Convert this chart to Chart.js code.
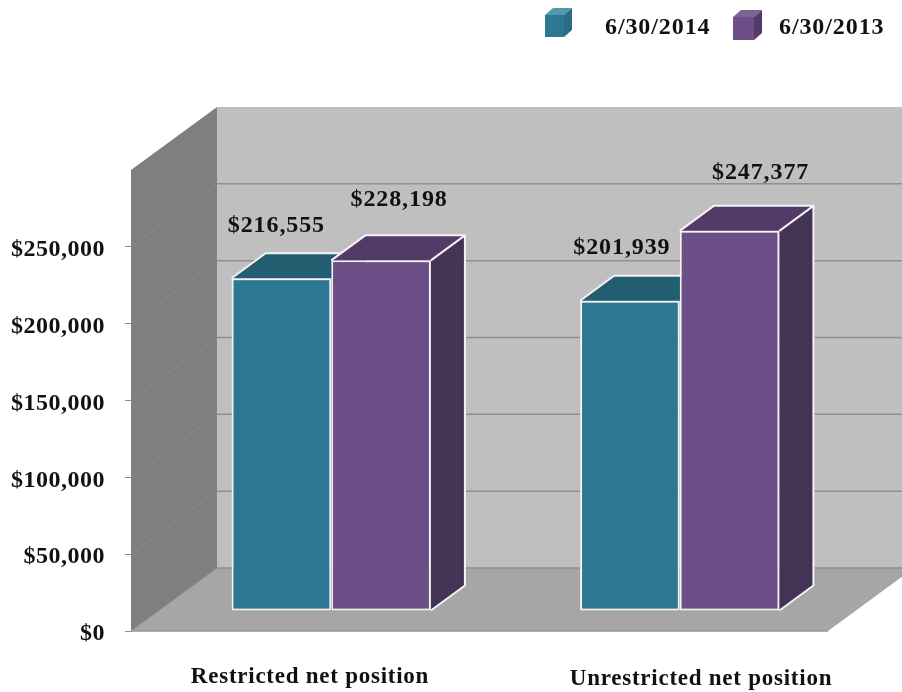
<!DOCTYPE html>
<html>
<head>
<meta charset="utf-8">
<title>Net position</title>
<script src="https://cdn.jsdelivr.net/npm/chart.js@4"></script>
<style>
  html, body { margin: 0; padding: 0; background: #fff; }
  canvas { display: block; }
</style>
</head>
<body>
<canvas id="chart" width="902" height="692"></canvas>
<script>
const categories = ['Restricted net position', 'Unrestricted net position']
const seriesNames = ['6/30/2014', '6/30/2013']
const values2014 = [216555, 201939]
const values2013 = [228198, 247377]

const serif = '"Liberation Serif", "Times New Roman", serif'
const money = v => '$' + v.toLocaleString('en-US')

// room depth and how far into the room the bars stand
const depth = { x: 86, y: -63 }
const inset = { x: 26, y: -20 }
const barDepth = { x: 34, y: -25 }

// colours for front, top and side of each series
const shades = [
  { front: '#2c7892', top: '#235e70', side: '#235e70', cubeTop: '#4d9ab2', cubeSide: '#2a6c82' },
  { front: '#6b4f86', top: '#523b66', side: '#433455', cubeTop: '#7a6592', cubeSide: '#523b66' }
]
// value label nudges from the bar's top centre, per series
const valueNudge = [
  [{ x: -5, y: -52 }, { x: -8, y: -53 }],
  [{ x: 18, y: -61 }, { x: 31, y: -58 }]
]
const labelPos = [{ x: 310, y: 677 }, { x: 701, y: 679 }]
const legendPos = [
  { x: 545, y: 15, w: 19, h: 22, text: 605, base: 34 },
  { x: 733, y: 17, w: 21, h: 23, text: 779, base: 34 }
]

function poly(ctx, pts, fill) {
  ctx.beginPath()
  pts.forEach((p, i) => i ? ctx.lineTo(p[0], p[1]) : ctx.moveTo(p[0], p[1]))
  ctx.closePath()
  ctx.fillStyle = fill
  ctx.fill()
}

function line(ctx, x1, y1, x2, y2, color, width) {
  ctx.beginPath()
  ctx.moveTo(x1, y1)
  ctx.lineTo(x2, y2)
  ctx.strokeStyle = color
  ctx.lineWidth = width
  ctx.stroke()
}

const room = {
  id: 'room',
  beforeDraw(chart) {
    const { ctx, chartArea: a, scales: { y } } = chart
    ctx.letterSpacing = '0.5px'
    ctx.save()
    // back wall, left wall, floor
    poly(ctx, [[a.left + depth.x, a.top + depth.y], [a.right + depth.x, a.top + depth.y],
      [a.right + depth.x, a.bottom + depth.y], [a.left + depth.x, a.bottom + depth.y]], '#bfbfbf')
    poly(ctx, [[a.left, a.top], [a.left + depth.x, a.top + depth.y],
      [a.left + depth.x, a.bottom + depth.y], [a.left, a.bottom]], '#7f7f7f')
    poly(ctx, [[a.left, a.bottom], [a.right, a.bottom],
      [a.right + depth.x, a.bottom + depth.y], [a.left + depth.x, a.bottom + depth.y]], '#a6a6a6')
    y.ticks.forEach(t => {
      const py = y.getPixelForValue(t.value)
      if (t.value === y.max) return
      line(ctx, a.left, py, a.left + depth.x, py + depth.y, '#8a8a8a', 1)
      line(ctx, a.left + depth.x, py + depth.y, a.right + depth.x, py + depth.y, '#8f8f8f', 1.5)
    })
    line(ctx, a.left, a.bottom, a.right, a.bottom, '#939393', 1.5)
    ctx.restore()
  },
  beforeDatasetsDraw(chart) {
    const { ctx } = chart
    ctx.save()
    ctx.translate(inset.x, inset.y)
    // tops and sides first, left series before right so the right one covers it
    chart.data.datasets.forEach((ds, i) => {
      const c = shades[i]
      chart.getDatasetMeta(i).data.forEach(bar => {
        const l = bar.x - bar.width / 2
        const r = bar.x + bar.width / 2
        const t = bar.y
        const b = bar.base
        const dx = barDepth.x
        const dy = barDepth.y
        poly(ctx, [[l, t], [r, t], [r + dx, t + dy], [l + dx, t + dy]], c.top)
        poly(ctx, [[r, t], [r + dx, t + dy], [r + dx, b + dy], [r, b]], c.side)
        ctx.strokeStyle = '#f4f1f7'
        ctx.lineWidth = 2
        ctx.lineJoin = 'round'
        ctx.beginPath()
        ctx.moveTo(l, t)
        ctx.lineTo(l + dx, t + dy)
        ctx.lineTo(r + dx, t + dy)
        // the left series has its right side hidden behind the right series
        if (i === chart.data.datasets.length - 1) {
          ctx.lineTo(r, t)
          ctx.moveTo(r + dx, t + dy)
          ctx.lineTo(r + dx, b + dy)
          ctx.lineTo(r, b)
        }
        ctx.stroke()
      })
    })
  },
  afterDatasetsDraw(chart) {
    const { ctx } = chart
    ctx.restore()
    ctx.save()
    ctx.fillStyle = '#111'
    ctx.textAlign = 'center'
    ctx.textBaseline = 'middle'
    ctx.font = 'bold 24px ' + serif
    ctx.letterSpacing = '0.9px'
    chart.data.datasets.forEach((ds, i) => {
      chart.getDatasetMeta(i).data.forEach((bar, j) => {
        const n = valueNudge[i][j]
        ctx.fillText(money(ds.data[j]), bar.x + inset.x + n.x, bar.y + inset.y + n.y)
      })
    })
    // category labels
    ctx.font = 'bold 23px ' + serif
    ctx.letterSpacing = '0.75px'
    categories.forEach((name, i) => ctx.fillText(name, labelPos[i].x, labelPos[i].y))
    // legend with little cubes
    ctx.textAlign = 'left'
    ctx.textBaseline = 'alphabetic'
    ctx.font = 'bold 24px ' + serif
    ctx.letterSpacing = '0.9px'
    seriesNames.forEach((name, i) => {
      const p = legendPos[i]
      const c = shades[i]
      const dx = 8
      const dy = -7
      poly(ctx, [[p.x, p.y], [p.x + p.w, p.y], [p.x + p.w + dx, p.y + dy], [p.x + dx, p.y + dy]], c.cubeTop)
      poly(ctx, [[p.x + p.w, p.y], [p.x + p.w + dx, p.y + dy], [p.x + p.w + dx, p.y + p.h + dy], [p.x + p.w, p.y + p.h]], c.cubeSide)
      ctx.fillStyle = c.front
      ctx.fillRect(p.x, p.y, p.w, p.h)
      ctx.fillStyle = '#111'
      ctx.fillText(name, p.text, p.base)
    })
    ctx.restore()
  }
}

new Chart(document.getElementById('chart'), {
  type: 'bar',
  data: {
    labels: categories,
    datasets: [
      { label: seriesNames[0], data: values2014, backgroundColor: shades[0].front, borderColor: '#f4f1f7', borderWidth: 2, borderSkipped: false, clip: false },
      { label: seriesNames[1], data: values2013, backgroundColor: shades[1].front, borderColor: '#f4f1f7', borderWidth: 2, borderSkipped: false, clip: false }
    ]
  },
  options: {
    responsive: false,
    animation: false,
    devicePixelRatio: 1,
    layout: { padding: { top: 170, right: 74, left: 0, bottom: 0 } },
    plugins: { legend: { display: false }, title: { display: false }, tooltip: { enabled: false } },
    datasets: { bar: { categoryPercentage: 0.572, barPercentage: 1 } },
    scales: {
      x: {
        grid: { display: false },
        border: { display: false },
        ticks: { display: false },
        afterFit: s => { s.height = 61 }
      },
      y: {
        min: 0,
        max: 300000,
        afterFit: s => { s.width = 131 },
        grid: {
          drawOnChartArea: false,
          drawTicks: true,
          tickLength: 6,
          color: c => c.tick && c.tick.value === 300000 ? 'transparent' : '#8c8c8c'
        },
        border: { display: false },
        ticks: {
          stepSize: 50000,
          padding: 20,
          labelOffset: 3,
          color: '#111',
          font: { family: serif, size: 24, weight: 'bold' },
          callback: v => v === 300000 ? '' : money(v)
        }
      }
    }
  },
  plugins: [room]
})
</script>
</body>
</html>
